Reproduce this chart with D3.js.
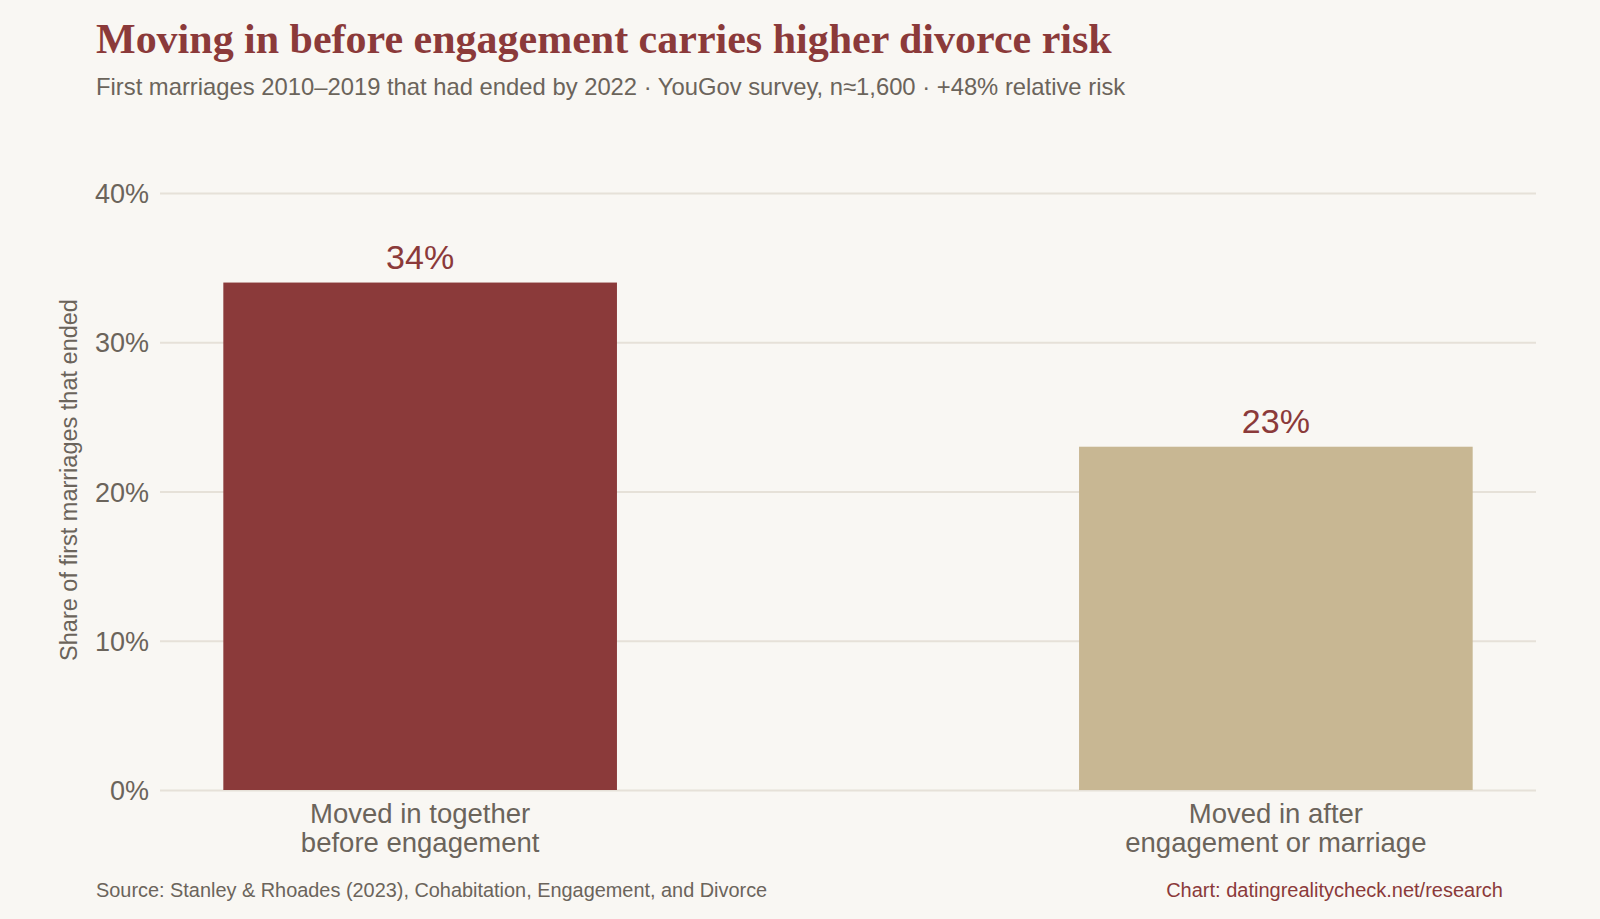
<!DOCTYPE html>
<html>
<head>
<meta charset="utf-8">
<script src="https://cdn.jsdelivr.net/npm/d3@7"></script>
<style>
  html, body { margin: 0; padding: 0; background: #f9f7f3; }
  svg { display: block; }
</style>
</head>
<body>
<svg id="chart"></svg>
<script>
// data
const categories = [
  ["Moved in together", "before engagement"],
  ["Moved in after", "engagement or marriage"]
];
const values = [34, 23];
const barColors = ["#8b3a3a", "#c8b793"];
const yTicks = [0, 10, 20, 30, 40];

const W = 1600, H = 919;
const sans = "'Liberation Sans', Arial, Helvetica, sans-serif";
const red = "#8b3a3a", grey = "#6b645b";

const svg = d3.select("#chart")
    .attr("width", W)
    .attr("height", H)
    .style("font-family", sans);

svg.append("rect").attr("width", W).attr("height", H).attr("fill", "#f9f7f3");

// plot area
const plot = { left: 160, right: 1536, top: 193, bottom: 790 };

const xScale = d3.scaleBand()
    .domain(d3.range(categories.length))
    .range([plot.left, plot.right])
    .paddingInner(0.54)
    .paddingOuter(0.074);

const yScale = d3.scaleLinear()
    .domain([0, 40])
    .range([plot.bottom, plot.top]);

// gridlines + tick labels
const yAxis = d3.axisLeft(yScale)
    .tickValues(yTicks)
    .tickSize(-(plot.right - plot.left))
    .tickPadding(11)
    .tickFormat(d => d + "%");

const yAxisGroup = svg.append("g")
    .attr("transform", `translate(${plot.left},0)`)
    .call(yAxis);
yAxisGroup.select(".domain").remove();
yAxisGroup.selectAll(".tick line")
    .attr("stroke", "#e6e1d8")
    .attr("stroke-width", 2);
yAxisGroup.selectAll(".tick text")
    .attr("fill", grey)
    .style("font-family", sans)
    .style("font-size", "27px")
    .attr("dy", "0.36em");

// y axis title
svg.append("text")
    .attr("transform", `translate(77,480) rotate(-90)`)
    .attr("text-anchor", "middle")
    .attr("fill", grey)
    .style("font-size", "23.5px")
    .text("Share of first marriages that ended");

// bars
svg.selectAll("rect.bar")
    .data(values)
    .enter()
    .append("rect")
    .attr("class", "bar")
    .attr("x", (d, i) => xScale(i))
    .attr("y", d => yScale(d))
    .attr("width", xScale.bandwidth())
    .attr("height", d => yScale(0) - yScale(d))
    .attr("fill", (d, i) => barColors[i]);

// value labels
svg.selectAll("text.val")
    .data(values)
    .enter()
    .append("text")
    .attr("class", "val")
    .attr("x", (d, i) => xScale(i) + xScale.bandwidth() / 2)
    .attr("y", d => yScale(d) - 14)
    .attr("text-anchor", "middle")
    .attr("fill", red)
    .style("font-size", "34px")
    .text(d => d + "%");

// category labels
const catLabels = svg.selectAll("text.cat")
    .data(categories)
    .enter()
    .append("text")
    .attr("class", "cat")
    .attr("text-anchor", "middle")
    .attr("fill", grey)
    .style("font-size", "27.5px");
catLabels.selectAll("tspan")
    .data((d, i) => d.map(line => ({ line, i })))
    .enter()
    .append("tspan")
    .attr("x", d => xScale(d.i) + xScale.bandwidth() / 2)
    .attr("y", (d, j) => 823 + j * 29)
    .text(d => d.line);

// title, fitted to the reference width
const title = svg.append("text")
    .attr("x", 96)
    .attr("y", 53)
    .attr("fill", red)
    .style("font-family", "'Liberation Serif', 'DejaVu Serif', serif")
    .style("font-weight", "bold")
    .style("font-size", "40px")
    .text("Moving in before engagement carries higher divorce risk");
const tw = title.node().getComputedTextLength();
title.style("font-size", (40 * 1016 / tw) + "px");

svg.append("text")
    .attr("x", 96)
    .attr("y", 95)
    .attr("fill", grey)
    .style("font-size", "23.8px")
    .text("First marriages 2010\u20132019 that had ended by 2022 \u00b7 YouGov survey, n\u22481,600 \u00b7 +48% relative risk");

// footer
svg.append("text")
    .attr("x", 96)
    .attr("y", 897)
    .attr("fill", grey)
    .style("font-size", "19.9px")
    .text("Source: Stanley & Rhoades (2023), Cohabitation, Engagement, and Divorce");

svg.append("text")
    .attr("x", 1503)
    .attr("y", 897)
    .attr("text-anchor", "end")
    .attr("fill", red)
    .style("font-size", "20px")
    .text("Chart: datingrealitycheck.net/research");
</script>
</body>
</html>
